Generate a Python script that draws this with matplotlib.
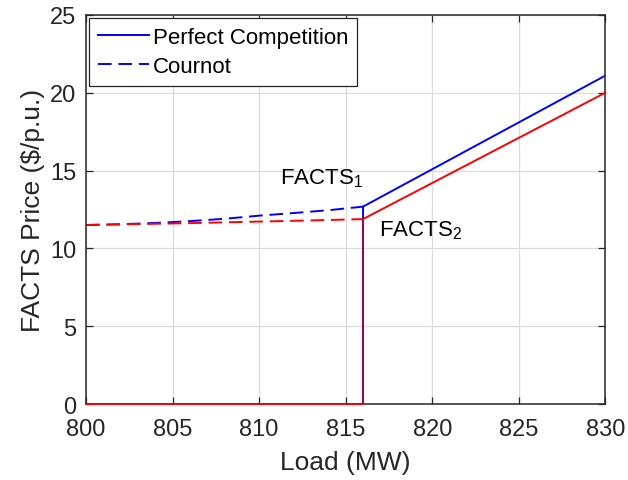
import matplotlib.pyplot as plt
import matplotlib as mpl

mpl.rcParams['font.family'] = ['Liberation Sans', 'DejaVu Sans']
mpl.rcParams['mathtext.fontset'] = 'custom'
mpl.rcParams['mathtext.rm'] = 'Liberation Sans'
mpl.rcParams['mathtext.it'] = 'Liberation Sans'

# Cournot (dashed) section
load_c = [800, 802, 804, 806, 808, 810, 812, 814, 816]
blue_c = [11.5, 11.55, 11.63, 11.75, 11.9, 12.1, 12.27, 12.45, 12.68]
red_c = [11.5, 11.54, 11.58, 11.62, 11.67, 11.72, 11.77, 11.82, 11.88]

# Perfect competition (solid) section
load_p = [800, 816, 816, 830]
blue_p = [0, 0, 12.68, 21.1]
red_p = [0, 0, 11.88, 20.0]

fig = plt.figure(figsize=(6.28, 4.81), dpi=100)
ax = fig.add_axes([0.137, 0.158, 0.827, 0.809])

dash = (0, (7, 3.5))
ax.plot(load_p, blue_p, color='#0000ff', lw=1.4, label='Perfect Competition')
ax.plot(load_c, blue_c, color='#0000ff', lw=1.4, ls=dash, label='Cournot')
ax.plot(load_p, red_p, color='#ff0000', lw=1.4, zorder=3, clip_on=False)
ax.plot(load_c, red_c, color='#ff0000', lw=1.4, ls=dash)
# overlapping vertical step looks purple
ax.vlines(load_p[1], 0, red_p[2], color='#0000ff', lw=1.4, alpha=0.35, zorder=4)

ax.text(811.2, 14.2, 'FACTS$_{1}$', fontsize=16)
ax.text(816.95, 10.8, 'FACTS$_{2}$', fontsize=16)

ax.set_xlim(800, 830)
ax.set_ylim(0, 25)
ax.set_xticks(range(800, 831, 5))
ax.set_yticks(range(0, 26, 5))
ax.grid(True, color='#dcdcdc', lw=0.9)
ax.set_axisbelow(True)
ax.tick_params(direction='in', length=5, width=0.9, labelsize=17, colors='#262626',
               top=True, right=True, labeltop=False, labelright=False)
ax.tick_params(axis='x', pad=10)
ax.tick_params(axis='y', pad=7)
for s in ax.spines.values():
    s.set_color('#262626')
    s.set_linewidth(1.1)

ax.set_xlabel('Load (MW)', fontsize=19, color='#262626', labelpad=7)
ax.set_ylabel('FACTS Price ($/p.u.)', fontsize=19, color='#262626', labelpad=4)

leg = ax.legend(loc='upper left', fontsize=16, fancybox=False, framealpha=1,
                edgecolor='#262626', borderaxespad=0.15, handlelength=2.3,
                handletextpad=0.15, borderpad=0.4, labelspacing=0.35)
leg.get_frame().set_linewidth(0.9)

fig.savefig('out.png', dpi=100)
